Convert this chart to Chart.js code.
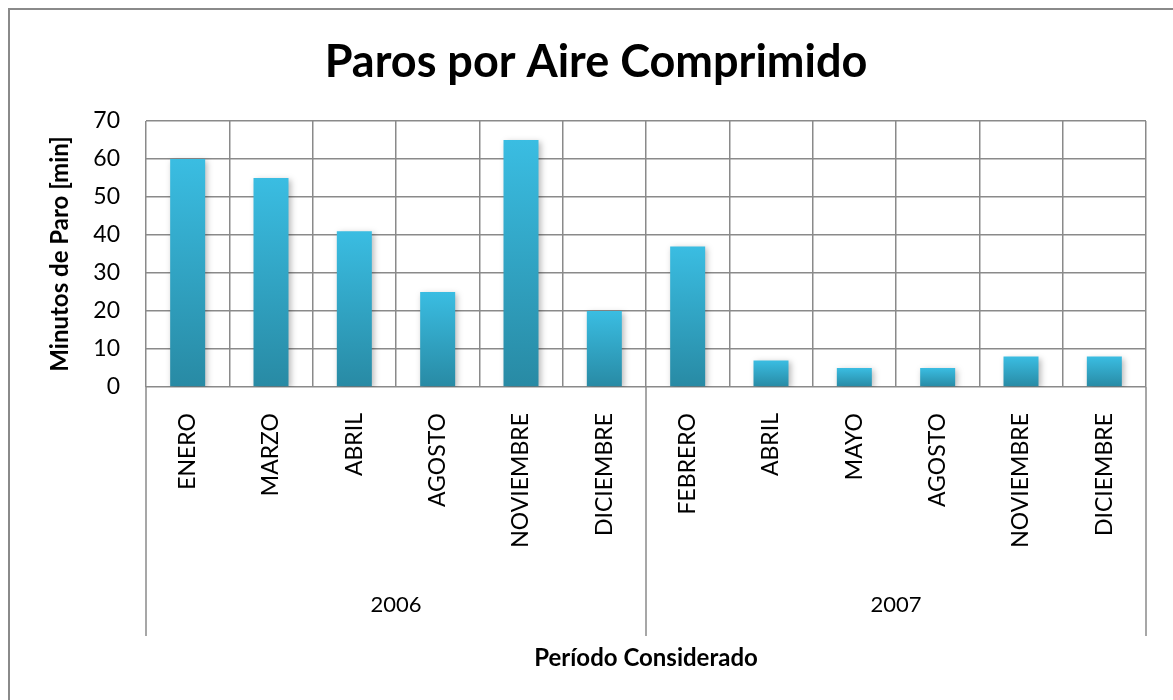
<!DOCTYPE html>
<html>
<head>
<meta charset="utf-8">
<script src="https://cdn.jsdelivr.net/npm/chart.js@4"></script>
<style>
    html, body { margin: 0; padding: 0; background: #fff; }
    #wrap { width: 1173px; height: 700px; position: relative; }
</style>
</head>
<body>
<div id="wrap"><canvas id="paroChart" width="1173" height="700"></canvas></div>
<script>
const months = ['ENERO', 'MARZO', 'ABRIL', 'AGOSTO', 'NOVIEMBRE', 'DICIEMBRE',
    'FEBRERO', 'ABRIL', 'MAYO', 'AGOSTO', 'NOVIEMBRE', 'DICIEMBRE'];
const years = ['2006', '2007'];
const monthsPerYear = [6, 6];
const minutes = [60, 55, 41, 25, 65, 20, 37, 7, 5, 5, 8, 8];

const FONT = 'Lato, "Open Sans", sans-serif';
const gridColor = '#8a8a8a';

function barGradient(context) {
    const chart = context.chart;
    const yScale = chart.scales.y;
    if (!chart.chartArea || !yScale) return '#34aed2';
    const top = yScale.getPixelForValue(context.raw);
    const bottom = yScale.getPixelForValue(0);
    const g = chart.ctx.createLinearGradient(0, top, 0, bottom);
    g.addColorStop(0, '#3abde2');
    g.addColorStop(1, '#288aa4');
    return g;
}

// outer frame of the chart (only left/top edges show in the crop)
const framePlugin = {
    id: 'frame',
    beforeDraw(chart) {
        const ctx = chart.ctx;
        ctx.save();
        ctx.strokeStyle = '#8a8a8a';
        ctx.lineWidth = 2;
        ctx.strokeRect(9, 9, chart.width + 20, chart.height + 20);
        ctx.restore();
    }
};

// soft shadow behind the bars
const shadowPlugin = {
    id: 'barShadow',
    beforeDatasetDraw(chart) {
        const ctx = chart.ctx;
        ctx.save();
        ctx.shadowColor = 'rgba(0,0,0,0.28)';
        ctx.shadowBlur = 6;
        ctx.shadowOffsetX = 2;
        ctx.shadowOffsetY = 2;
    },
    afterDatasetDraw(chart) {
        chart.ctx.restore();
    }
};

// separators for the year groups below the axis
const groupPlugin = {
    id: 'groupLines',
    afterDraw(chart) {
        const x = chart.scales.x;
        const x2 = chart.scales.x2;
        const ctx = chart.ctx;
        const half = (x.getPixelForValue(1) - x.getPixelForValue(0)) / 2;
        const bounds = [0];
        monthsPerYear.reduce((acc, n) => { bounds.push(acc + n); return acc + n; }, 0);
        ctx.save();
        ctx.strokeStyle = gridColor;
        ctx.lineWidth = 1.5;
        bounds.forEach(b => {
            const px = Math.round(x.getPixelForValue(b) - half);
            ctx.beginPath();
            ctx.moveTo(px, chart.chartArea.bottom);
            ctx.lineTo(px, x2.bottom - 46);
            ctx.stroke();
        });
        ctx.restore();
    }
};

const ctx = document.getElementById('paroChart').getContext('2d');
new Chart(ctx, {
    type: 'bar',
    data: {
        labels: months,
        datasets: [{
            label: 'Minutos de Paro',
            data: minutes,
            backgroundColor: barGradient,
            borderWidth: 0,
            categoryPercentage: 1,
            barPercentage: 0.42
        }]
    },
    plugins: [framePlugin, shadowPlugin, groupPlugin],
    options: {
        responsive: false,
        animation: false,
        layout: { padding: { left: 46, right: 27, top: 0, bottom: 18 } },
        plugins: {
            legend: { display: false },
            tooltip: { enabled: false },
            title: {
                display: true,
                text: 'Paros por Aire Comprimido',
                color: '#000',
                font: { family: FONT, size: 45, weight: 'bold' },
                padding: { top: 35, bottom: 32 }
            }
        },
        scales: {
            x: {
                weight: 0,
                offset: true,
                afterFit: s => { s.height = 165; },
                grid: { color: gridColor, lineWidth: 1.5, drawTicks: false, offset: true },
                border: { display: false },
                ticks: {
                    color: '#000',
                    font: { family: FONT, size: 23 },
                    minRotation: 90,
                    maxRotation: 90,
                    autoSkip: false,
                    padding: 26
                }
            },
            x2: {
                type: 'category',
                position: 'bottom',
                weight: 1,
                labels: years,
                offset: true,
                afterFit: s => { s.height = 130; },
                grid: { display: false, drawTicks: false },
                border: { display: false },
                ticks: {
                    color: '#000',
                    font: { family: FONT, size: 22 },
                    maxRotation: 0,
                    padding: 40
                },
                title: {
                    display: true,
                    text: 'Período Considerado',
                    color: '#000',
                    font: { family: FONT, size: 24, weight: 'bold' },
                    padding: { top: 10, bottom: 9 }
                }
            },
            y: {
                min: 0,
                max: 70,
                afterFit: s => { s.width = 100; },
                grid: { color: gridColor, lineWidth: 1.5, drawTicks: false },
                border: { display: false },
                ticks: {
                    stepSize: 10,
                    color: '#000',
                    font: { family: FONT, size: 23 },
                    padding: 26
                },
                title: {
                    display: true,
                    text: 'Minutos de Paro [min]',
                    color: '#000',
                    font: { family: FONT, size: 24, weight: 'bold' },
                    padding: { top: 0, bottom: 0 }
                }
            }
        }
    }
});
</script>
</body>
</html>
